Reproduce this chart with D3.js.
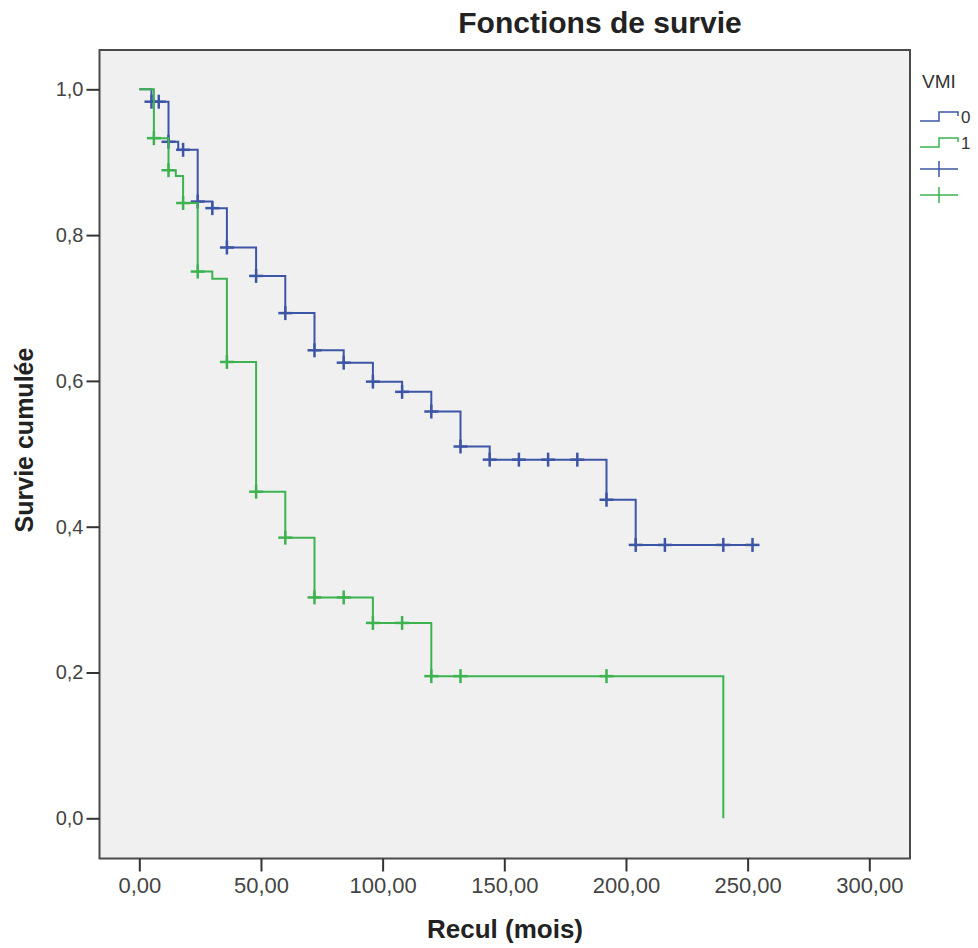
<!DOCTYPE html>
<html>
<head>
<meta charset="utf-8">
<script src="https://cdn.jsdelivr.net/npm/d3@7"></script>
<style>
  body { margin: 0; background: #fff; }
  svg { display: block; font-family: "Liberation Sans", Arial, sans-serif; }
</style>
</head>
<body>
<svg id="chart"></svg>
<script>
// VMI = 0
const times0 = [0, 5, 12, 16, 24, 30, 36, 48, 60, 72, 84, 96, 108, 120, 132, 144, 192, 204, 252];
const surv0 = [1, 0.983, 0.928, 0.917, 0.846, 0.837, 0.783, 0.744, 0.693, 0.642, 0.625, 0.599, 0.585, 0.558, 0.510, 0.492, 0.437, 0.375, 0.375];
const censored0 = [5, 8, 12, 18, 24, 30, 36, 48, 60, 72, 84, 96, 108, 120, 132, 144, 156, 168, 180, 192, 204, 216, 240, 252];

// VMI = 1
const times1 = [0, 6, 12, 15, 18, 24, 30, 36, 48, 60, 72, 96, 120, 240];
const surv1 = [1, 0.933, 0.889, 0.881, 0.844, 0.750, 0.740, 0.626, 0.448, 0.385, 0.303, 0.268, 0.195, 0];
const censored1 = [6, 12, 18, 24, 36, 48, 60, 72, 84, 96, 108, 120, 132, 192];

const groups = ["0", "1"];
const colors = ["#3d55a5", "#3db350"];
const xTicks = [0, 50, 100, 150, 200, 250, 300];
const yTicks = [0, 0.2, 0.4, 0.6, 0.8, 1.0];

const width = 978;
const height = 948;
const frame = { left: 99.5, right: 910, top: 50, bottom: 858.5 };

const svg = d3.select("#chart")
    .attr("width", width)
    .attr("height", height);

const x = d3.scaleLinear().domain([0, 300]).range([139.3, 869.3]);
const y = d3.scaleLinear().domain([0, 1]).range([818.3, 89.3]);

// plot area
svg.append("rect")
    .attr("x", frame.left)
    .attr("y", frame.top)
    .attr("width", frame.right - frame.left)
    .attr("height", frame.bottom - frame.top)
    .attr("fill", "#f0f0f0")
    .attr("stroke", "#4a4a4a")
    .attr("stroke-width", 2);

const comma = s => s.replace(".", ",");

const xAxis = svg.append("g")
    .attr("transform", `translate(0,${frame.bottom})`)
    .call(d3.axisBottom(x).tickValues(xTicks).tickSize(13).tickPadding(6)
        .tickFormat(d => comma(d3.format(".2f")(d))));
xAxis.select(".domain").remove();

const yAxis = svg.append("g")
    .attr("transform", `translate(${frame.left},0)`)
    .call(d3.axisLeft(y).tickValues(yTicks).tickSize(13).tickPadding(3)
        .tickFormat(d => comma(d3.format(".1f")(d))));
yAxis.select(".domain").remove();

svg.selectAll(".tick line").attr("stroke", "#333").attr("stroke-width", 2);
xAxis.selectAll("text").attr("font-size", 22).attr("fill", "#444");
yAxis.selectAll("text").attr("font-size", 20).attr("fill", "#444");

// curves
const line = d3.line()
    .x(d => x(d[0]))
    .y(d => y(d[1]))
    .curve(d3.curveStepAfter);

const series = [
    { times: times0, surv: surv0, cens: censored0 },
    { times: times1, surv: surv1, cens: censored1 }
];

function survAt(s, t) {
    let v = s.surv[0];
    s.times.forEach((tt, i) => { if (tt <= t) v = s.surv[i]; });
    return v;
}

series.forEach((s, i) => {
    svg.append("path")
        .datum(s.times.map((t, j) => [t, s.surv[j]]))
        .attr("fill", "none")
        .attr("stroke", colors[i])
        .attr("stroke-width", 2)
        .attr("d", line);

    const marks = svg.append("g").selectAll("g")
        .data(s.cens)
        .enter().append("g")
        .attr("transform", t => `translate(${x(t)},${y(survAt(s, t))})`)
        .attr("stroke", colors[i])
        .attr("stroke-width", 2.5);
    marks.append("line").attr("x1", 0).attr("x2", 0).attr("y1", -7).attr("y2", 7);
    marks.append("line").attr("x1", -7).attr("x2", 7).attr("y1", 0).attr("y2", 0);
});

// titles
svg.append("text")
    .attr("x", 600).attr("y", 33)
    .attr("text-anchor", "middle")
    .attr("font-size", 30).attr("font-weight", "bold").attr("fill", "#222")
    .text("Fonctions de survie");

svg.append("text")
    .attr("x", 505).attr("y", 938)
    .attr("text-anchor", "middle")
    .attr("font-size", 26).attr("font-weight", "bold").attr("fill", "#222")
    .text("Recul (mois)");

svg.append("text")
    .attr("transform", "translate(33,440) rotate(-90)")
    .attr("text-anchor", "middle")
    .attr("font-size", 25).attr("font-weight", "bold").attr("fill", "#222")
    .text("Survie cumulée");

// legend
const legend = svg.append("g").attr("transform", "translate(920,0)");
legend.append("text")
    .attr("x", 2).attr("y", 88)
    .attr("font-size", 19).attr("fill", "#333")
    .text("VMI");

groups.forEach((g, i) => {
    const yy = 121 + i * 26;
    legend.append("path")
        .attr("d", `M0,${yy}H19V${yy - 9}H38V${yy - 5}`)
        .attr("fill", "none")
        .attr("stroke", colors[i])
        .attr("stroke-width", 1.5);
    legend.append("text")
        .attr("x", 41).attr("y", yy + 2)
        .attr("font-size", 17).attr("fill", "#333")
        .text(g);
});

groups.forEach((g, i) => {
    const yy = 169 + i * 26;
    const m = legend.append("g").attr("stroke", colors[i]).attr("stroke-width", 1.5);
    m.append("line").attr("x1", 0).attr("x2", 38).attr("y1", yy).attr("y2", yy);
    m.append("line").attr("x1", 19).attr("x2", 19).attr("y1", yy - 8).attr("y2", yy + 8);
});
</script>
</body>
</html>
